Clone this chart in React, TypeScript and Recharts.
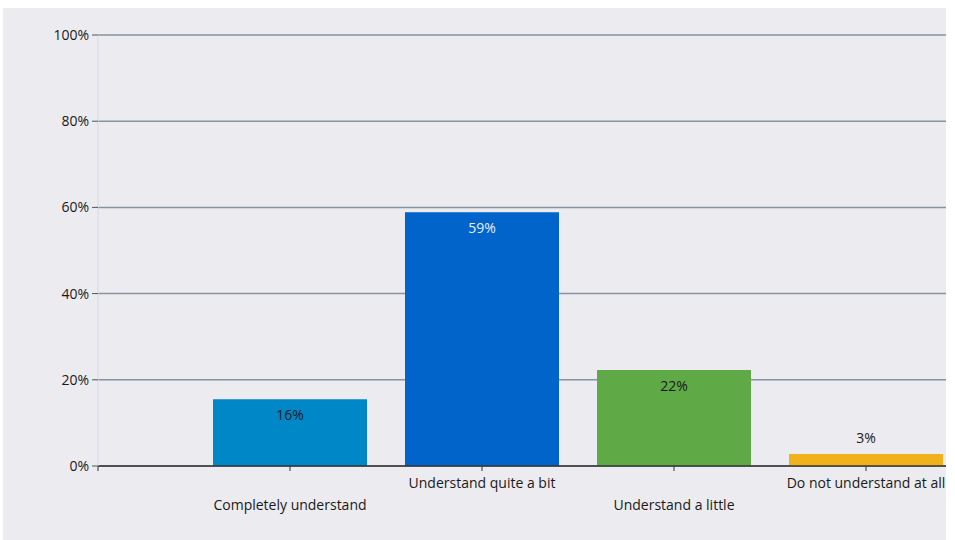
import React from "react";
import { Bar, BarChart, CartesianGrid, Cell, LabelList, XAxis, YAxis } from "recharts";

const categories = [
  "Completely understand",
  "Understand quite a bit",
  "Understand a little",
  "Do not understand at all",
];
const shares = [15.5, 58.9, 22.3, 2.8];
const shareLabels = ["16%", "59%", "22%", "3%"];
const yTicks = [0, 20, 40, 60, 80, 100];

const barColors = ["#0087C7", "#0064CB", "#5FA946", "#EFB21B"];
const labelColors = ["#1a1a1a", "#E8F0FF", "#1a1a1a", "#1a1a1a"];
const FONT = "'Open Sans', 'Liberation Sans', sans-serif";

const data = categories.map((name, i) => ({
  pos: i + 1,
  name,
  share: shares[i],
  label: shareLabels[i],
}));

const CategoryTick = (props: any) => {
  const { x, y, payload } = props;
  const i = payload.value - 1;
  if (i < 0 || i >= categories.length) return null;
  const dy = i % 2 === 0 ? 37 : 15;
  return (
    <text x={x} y={y + dy} textAnchor="middle" fill="#1a1a1a" fontSize={14} fontFamily={FONT}>
      {categories[i]}
    </text>
  );
};

const ShareLabel = (props: any) => {
  const { x, y, width, height, index } = props;
  const inside = height > 30;
  return (
    <text
      x={x + width / 2}
      y={inside ? y + 21 : y - 11}
      textAnchor="middle"
      fill={labelColors[index]}
      fontSize={14}
      fontFamily={FONT}
    >
      {shareLabels[index]}
    </text>
  );
};

export default function App() {
  return (
    <div style={{ position: "absolute", left: 0, top: 0, width: 955, height: 540, background: "#fff" }}>
      <div style={{ position: "absolute", left: 3, top: 8, width: 943, height: 532, background: "#ECEBF0" }}>
        <BarChart
          width={943}
          height={532}
          data={data}
          margin={{ top: 27, right: 0, left: 0, bottom: 14 }}
        >
          <CartesianGrid vertical={false} stroke="#8694A1" strokeWidth={1.5} />
          <XAxis
            type="number"
            dataKey="pos"
            domain={[0, 848 / 192]}
            ticks={[0, 1, 2, 3, 4]}
            allowDataOverflow
            height={60}
            axisLine={{ stroke: "#333", strokeWidth: 1.5 }}
            tickLine={{ stroke: "#333" }}
            tickSize={5}
            tick={<CategoryTick />}
            interval={0}
          />
          <YAxis
            domain={[0, 100]}
            ticks={yTicks}
            width={95}
            axisLine={{ stroke: "#D4DBE8" }}
            tickLine={{ stroke: "#555" }}
            tickSize={6}
            tickMargin={3}
            tickFormatter={(v: number) => `${v}%`}
            tick={{ fill: "#1a1a1a", fontSize: 14, fontFamily: FONT }}
          />
          <Bar dataKey="share" barSize={154} isAnimationActive={false}>
            {data.map((d, i) => (
              <Cell key={d.name} fill={barColors[i]} />
            ))}
            <LabelList dataKey="label" content={<ShareLabel />} />
          </Bar>
        </BarChart>
      </div>
    </div>
  );
}
